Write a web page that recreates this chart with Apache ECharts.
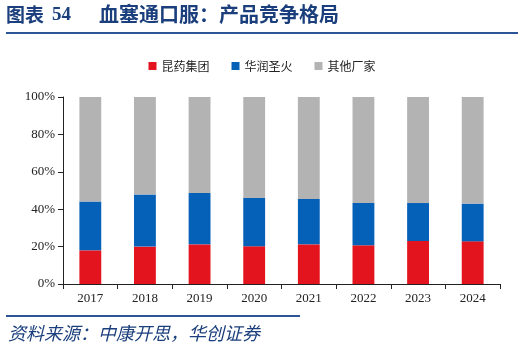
<!DOCTYPE html>
<html>
<head>
<meta charset="utf-8">
<script src="https://cdn.jsdelivr.net/npm/echarts@6/dist/echarts.min.js"></script>
<style>
  html, body { margin: 0; padding: 0; background: #fff; }
  #chart { width: 524px; height: 351px; }
</style>
</head>
<body>
<div id="chart"></div>
<script>
// 年份与各厂家份额（%）
const years = ['2017', '2018', '2019', '2020', '2021', '2022', '2023', '2024'];
const kunyao = [18.0, 20.0, 21.2, 20.2, 21.2, 20.7, 23.0, 22.8];
const huarun = [26.1, 27.8, 27.5, 25.8, 24.3, 22.6, 20.3, 20.2];
const others = [55.9, 52.2, 51.3, 54.0, 54.5, 56.7, 56.7, 57.0];

const chart = echarts.init(document.getElementById('chart'));
const axisFont = { fontFamily: 'Liberation Serif', fontSize: 13, color: '#222' };
const navy = '#1B3F7C';

const barSeries = (name, data, color) => ({
    name: name,
    type: 'bar',
    stack: 'total',
    barWidth: '40%',
    data: data,
    itemStyle: { color: color }
});

chart.setOption({
    animation: false,
    graphic: [
        // title
        {
            type: 'text', left: 6, top: 5,
            style: { text: '图表', font: 'bold 19px "Noto Sans CJK SC"', fill: navy }
        },
        {
            type: 'text', left: 52, top: 6,
            style: { text: '54', font: 'bold 19px "Liberation Serif"', fill: navy }
        },
        {
            type: 'text', left: 99, top: 4,
            style: { text: '血塞通口服：产品竞争格局', font: 'bold 20px "Noto Sans CJK SC"', fill: navy }
        },
        // title underline
        { type: 'rect', shape: { x: 6, y: 32, width: 512, height: 2 }, style: { fill: '#2B5597' } },
        // source line
        { type: 'rect', shape: { x: 6, y: 315, width: 294, height: 2 }, style: { fill: '#2B5597' } },
        {
            type: 'text', left: 8, top: 324,
            style: {
                text: '资料来源：中康开思，华创证券',
                font: 'italic 18px "Noto Sans CJK SC"',
                fill: navy
            }
        }
    ],
    legend: {
        top: 55,
        left: 'center',
        itemWidth: 8,
        itemHeight: 8,
        itemGap: 22,
        icon: 'rect',
        textStyle: { fontFamily: 'Noto Sans CJK SC', fontSize: 12, color: '#222' },
        data: ['昆药集团', '华润圣火', '其他厂家']
    },
    grid: { left: 63, right: 24, top: 97, bottom: 67 },
    xAxis: {
        type: 'category',
        data: years,
        axisLine: { lineStyle: { color: '#222', width: 1 } },
        axisTick: { show: true, length: 5, lineStyle: { color: '#222' } },
        axisLabel: Object.assign({ margin: 8 }, axisFont)
    },
    yAxis: {
        type: 'value',
        min: 0,
        max: 100,
        interval: 20,
        axisLine: { show: true, lineStyle: { color: '#222', width: 1 } },
        axisTick: { show: true, length: 5, lineStyle: { color: '#222' } },
        splitLine: { show: false },
        axisLabel: Object.assign({ formatter: '{value}%', margin: 8 }, axisFont)
    },
    series: [
        barSeries('昆药集团', kunyao, '#E3141E'),
        barSeries('华润圣火', huarun, '#0560B8'),
        barSeries('其他厂家', others, '#B3B3B3')
    ]
});
</script>
</body>
</html>
